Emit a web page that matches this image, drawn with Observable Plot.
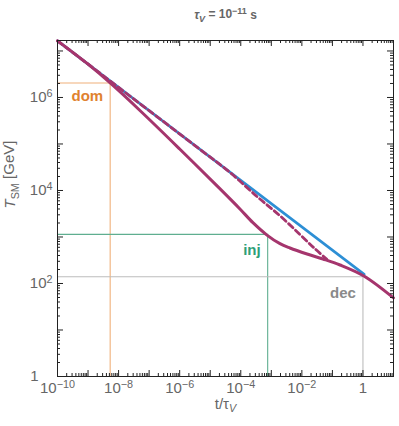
<!DOCTYPE html>
<html><head><meta charset="utf-8">
<script src="https://cdn.jsdelivr.net/npm/d3@7"></script>
<script src="https://cdn.jsdelivr.net/npm/@observablehq/plot@0.6"></script>
<style>body{margin:0;background:#fff} svg{display:block}</style>
</head><body><div id="chart"></div>
<script>
// ---- data ----
const blueT    = [1e-10, 1e-5, 1.1];
const blueTemp = [1.65e7, 5.22e4, 157];

const dashT    = [1e-10, 1e-7, 4.6e-6, 4.4e-5, 3.66e-4, 1.92e-3, 8.7e-3, 2.7e-2, 6.6e-2];
const dashTemp = [1.65e7, 5.2e5, 7.65e4, 2.45e4, 7.1e3, 2.86e3, 1.13e3, 555, 330];

const solidT    = [1e-10, 1e-9, 5.3e-9, 5.0e-8, 1.0e-6, 2.1e-5, 9.4e-5, 2.5e-4, 7.2e-4, 1.92e-3, 4.07e-3, 1.48e-2, 4.9e-2, 0.178, 1.07, 10];
const solidTemp = [1.65e7, 5.2e6, 2.05e6, 5.25e5, 7.8e4, 1.08e4, 4.0e3, 2.03e3, 1.10e3, 718, 580, 431, 337, 250, 145, 49];

const markerNames = ["dom", "inj", "dec"];
const markerT     = [5.3e-9, 7.6e-4, 1.0];
const markerTemp  = [2.05e6, 1.14e3, 140];
const markerLine  = ["#f0b07a", "#5fae90", "#bdbdbd"];
const markerText  = ["#e0822f", "#2f9f78", "#8a8a8a"];
const markerDy    = [13, 16, 16];

const xTickLabels = [1e-10, 1e-8, 1e-6, 1e-4, 1e-2, 1];
const yTickLabels = [1, 1e2, 1e4, 1e6];

const titleText = "TITLE_PLACEHOLDER";
const xLabelText = "XLABEL_PLACEHOLDER";
const yLabelText = "YLABEL_PLACEHOLDER";

const xDomain = [1e-10, 10];
const yDomain = [1, 1.68e7];

// ---- layout ----
const W = 399, H = 426, mL = 57, mR = 6, mT = 40, mB = 50;
const innerW = W - mL - mR, innerH = H - mT - mB;

const zip = (a, b) => a.map((v, i) => ({t: v, T: b[i]}));
const blue = zip(blueT, blueTemp);
const dashed = zip(dashT, dashTemp);
const solid = zip(solidT, solidTemp);
const markers = markerNames.map((n, i) => ({name: n, t: markerT[i], T: markerTemp[i]}));

// tick positions
const xMajor = [], xMinor = [];
for (let e = -10; e <= 1; e++) {
  xMajor.push(Number("1e" + e));
  if (e < 1) for (let k = 2; k <= 9; k++) xMinor.push(k * Number("1e" + e));
}
const yMajor = [], yMinor = [];
for (let e = 0; e <= 7; e++) {
  yMajor.push(Number("1e" + e));
  for (let k = 2; k <= 9; k++) { const v = k * Number("1e" + e); if (v <= yDomain[1]) yMinor.push(v); }
}

const frameColor = "#222";
const MAJ = 6, MIN = 3;
const tickMarks = [
  Plot.tickX(xMajor, {x: d => d, insetTop: innerH - MAJ, stroke: frameColor}),
  Plot.tickX(xMajor, {x: d => d, insetBottom: innerH - MAJ, stroke: frameColor}),
  Plot.tickX(xMinor, {x: d => d, insetTop: innerH - MIN, stroke: frameColor}),
  Plot.tickX(xMinor, {x: d => d, insetBottom: innerH - MIN, stroke: frameColor}),
  Plot.tickY(yMajor, {y: d => d, insetRight: innerW - MAJ, stroke: frameColor}),
  Plot.tickY(yMajor, {y: d => d, insetLeft: innerW - MAJ, stroke: frameColor}),
  Plot.tickY(yMinor, {y: d => d, insetRight: innerW - MIN, stroke: frameColor}),
  Plot.tickY(yMinor, {y: d => d, insetLeft: innerW - MIN, stroke: frameColor})
];

const fmt = d => d === 1 ? "1" : "10^" + Math.round(Math.log10(d));

const markerMarks = [];
markers.forEach((m, i) => {
  markerMarks.push(
    Plot.ruleY([m], {y: "T", x1: () => xDomain[0], x2: "t", stroke: markerLine[i], strokeWidth: 1.1}),
    Plot.ruleX([m], {x: "t", y1: () => yDomain[0], y2: "T", stroke: markerLine[i], strokeWidth: 1.1})
  );
});
const markerLabels = markers.map((m, i) =>
  Plot.text([m], {x: "t", y: "T", text: "name", dx: -7, dy: markerDy[i], textAnchor: "end",
    fill: markerText[i], fontWeight: "bold", fontSize: 15})
);

const purple = "#a5356d", blueC = "#2d8fd5";

const svg = Plot.plot({
  width: W, height: H,
  marginLeft: mL, marginRight: mR, marginTop: mT, marginBottom: mB,
  x: {type: "log", domain: xDomain},
  y: {type: "log", domain: yDomain},
  style: {fontFamily: "'Liberation Sans', Arial, sans-serif", background: "#fff"},
  marks: [
    ...markerMarks,
    Plot.line(blue, {x: "t", y: "T", stroke: blueC, strokeWidth: 2.6}),
    Plot.line(dashed, {x: "t", y: "T", stroke: purple, strokeWidth: 2.8, strokeDasharray: "6,3.5", curve: "catmull-rom"}),
    Plot.line(solid, {x: "t", y: "T", stroke: purple, strokeWidth: 3, curve: "catmull-rom"}),
    ...markerLabels,
    Plot.frame({stroke: frameColor, strokeWidth: 1}),
    ...tickMarks,
    Plot.axisX(xTickLabels, {anchor: "bottom", tickSize: 0, tickPadding: 6, tickFormat: fmt, fontSize: 15, color: "#666", label: null}),
    Plot.axisY(yTickLabels, {anchor: "left", tickSize: 0, tickPadding: 5, tickFormat: fmt, fontSize: 15, color: "#666", label: null}),
    Plot.text([yLabelText], {frameAnchor: "left", dx: -47, rotate: -90, fontSize: 15, fill: "#666", text: d => d}),
    Plot.text([xLabelText], {frameAnchor: "bottom", dy: 32, fontSize: 15, fill: "#666", text: d => d}),
    Plot.text([titleText], {frameAnchor: "top", dy: -30, fontSize: 12, fontWeight: "bold", fill: "#666", text: d => d})
  ]
});

const NS = "http://www.w3.org/2000/svg";
function rich(el, segs) {
  while (el.firstChild) el.removeChild(el.firstChild);
  segs.forEach(s => {
    const ts = document.createElementNS(NS, "tspan");
    ts.textContent = s.t;
    if (s.dy) ts.setAttribute("dy", s.dy);
    if (s.size) ts.setAttribute("font-size", s.size);
    if (s.italic) ts.setAttribute("font-style", "italic");
    el.appendChild(ts);
  });
}
svg.querySelectorAll('g[aria-label="x-axis tick label"] text, g[aria-label="y-axis tick label"] text').forEach(el => {
  const s = el.textContent;
  if (s.startsWith("10^")) {
    const exp = s.slice(3).replace("-", "\u2212");
    rich(el, [{t: "10"}, {t: exp, dy: "-0.5em", size: "0.72em"}]);
  }
});
svg.querySelectorAll('g[aria-label="y-axis tick label"] text').forEach(el => {
  if (el.textContent === "1") el.setAttribute("transform", (el.getAttribute("transform") || "") + " translate(-14,0)");
});
svg.querySelectorAll("text").forEach(el => {
  const s = el.textContent;
  if (s === yLabelText)
    rich(el, [{t: "T", italic: true}, {t: "SM", dy: "0.3em", size: "0.72em"}, {t: " [GeV]", dy: "-0.3em"}]);
  else if (s === xLabelText)
    rich(el, [{t: "t/\u03c4"}, {t: "V", dy: "0.3em", size: "0.72em", italic: true}]);
  else if (s === titleText)
    rich(el, [{t: "\u03c4", italic: true}, {t: "V", dy: "0.3em", size: "0.75em", italic: true},
              {t: " = 10", dy: "-0.3em"}, {t: "\u221211", dy: "-0.45em", size: "0.75em"}, {t: " s", dy: "0.45em"}]);
});

document.getElementById("chart").appendChild(svg);
</script>
</body></html>
